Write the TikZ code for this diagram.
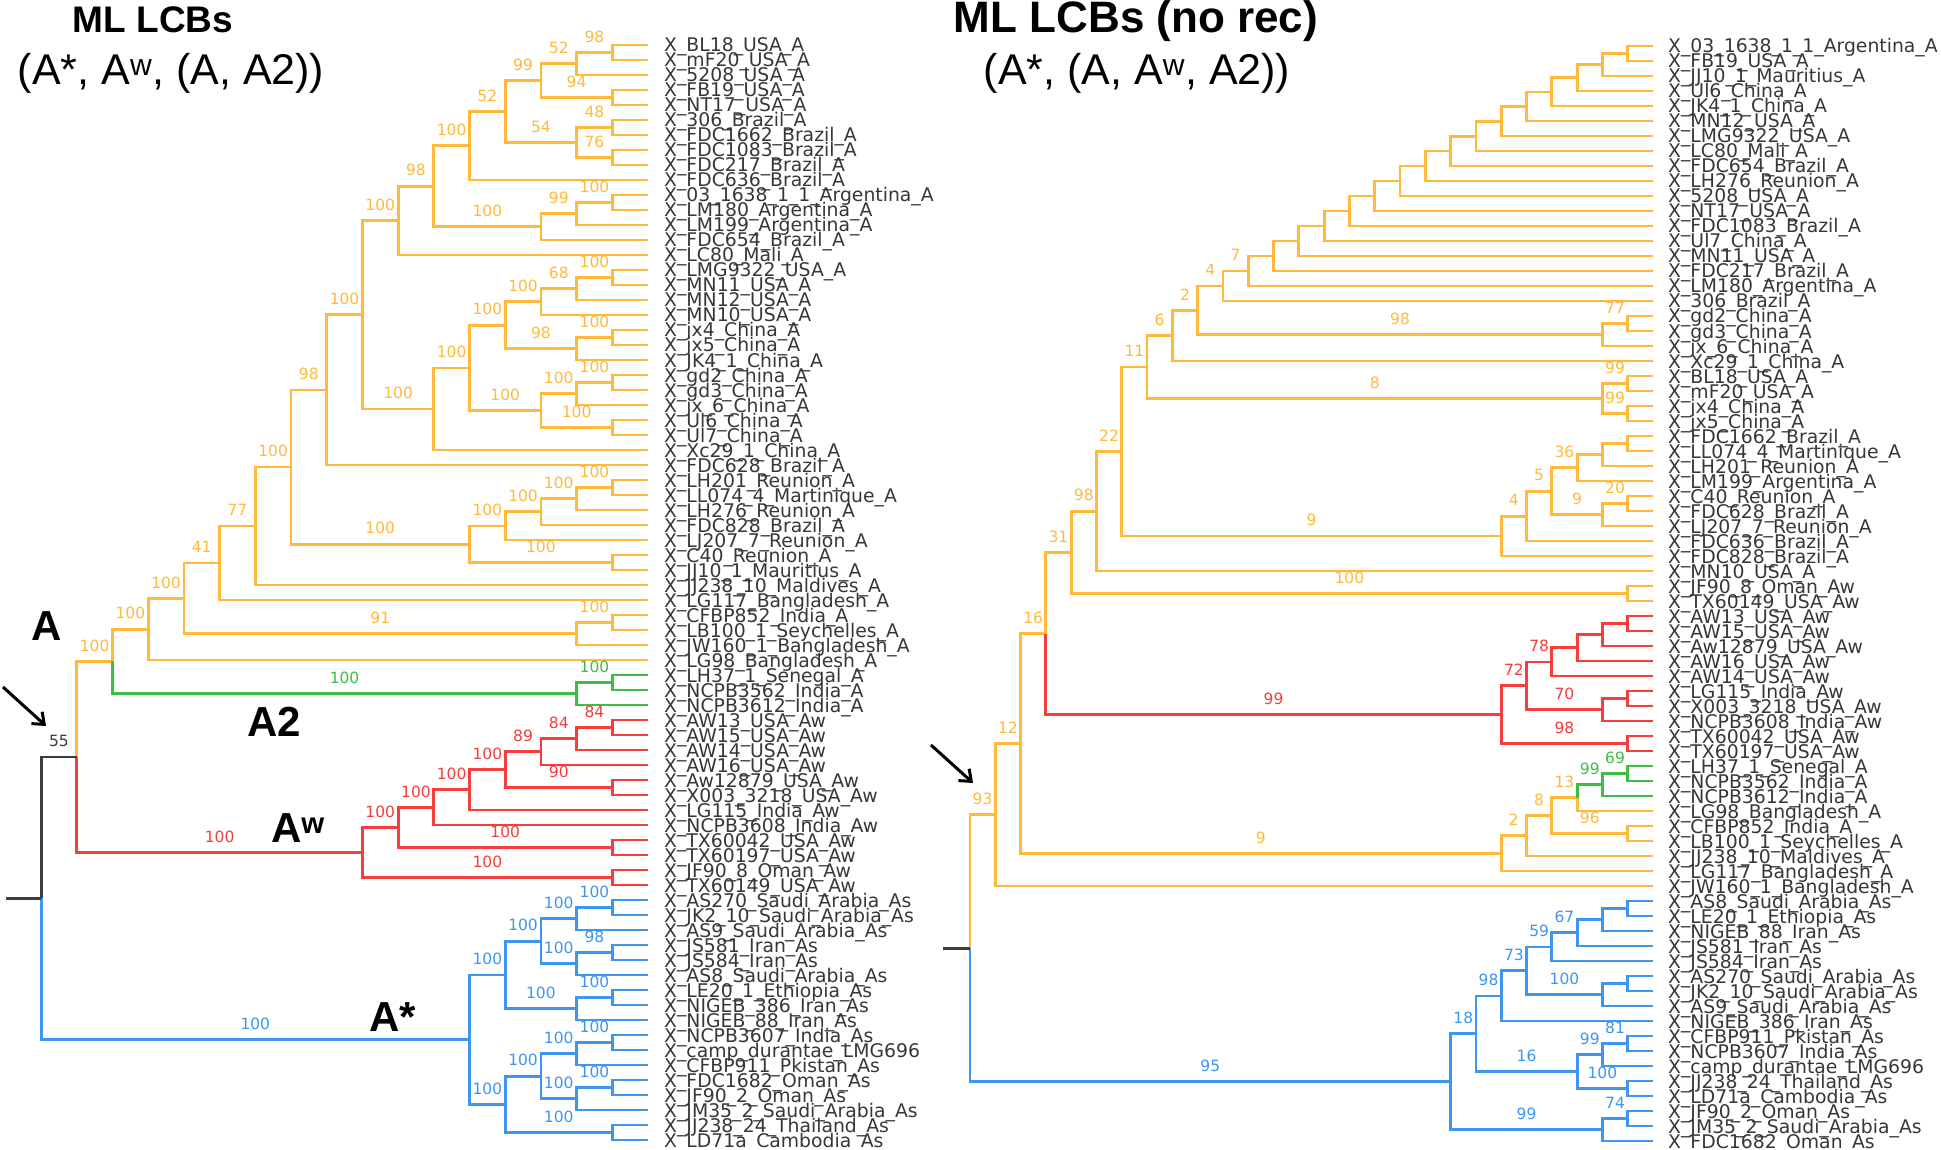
\documentclass[tikz,border=0pt]{standalone}
\usepackage{fontspec}
\setmainfont{Liberation Sans}
\newfontfamily\leaffont{DejaVu Sans}
\usetikzlibrary{calc,arrows.meta}
\definecolor{co}{RGB}{255,186,60}
\definecolor{cr}{RGB}{244,62,62}
\definecolor{cg}{RGB}{62,190,70}
\definecolor{cb}{RGB}{62,150,240}
\definecolor{ck}{RGB}{60,60,60}
\definecolor{lg}{RGB}{55,55,55}
\begin{document}
\begin{tikzpicture}[x=1pt,y=-1pt,
  edge/.style={line width=2.8pt},
  leaf/.style={font=\leaffont\fontsize{18.8}{20}\selectfont, text=lg, anchor=base west, inner sep=0pt},
  bs/.style={font=\leaffont\fontsize{15.5}{16}\selectfont, inner sep=0pt},
  clade/.style={font=\bfseries\fontsize{42}{44}\selectfont, inner sep=0pt},
  ttlb/.style={font=\bfseries\fontsize{#1}{#1}\selectfont, inner sep=0pt, anchor=base},
  ttlr/.style={font=\fontsize{43}{45}\selectfont, inner sep=0pt, anchor=base},
  arr/.style={line width=3pt, -{Straight Barb[length=10pt,width=16pt]}}]
\fill[white] (0,0) rectangle (1941,1150);
\useasboundingbox (0,0) rectangle (1941,1150);
% level coordinates
\foreach \k in {0,...,17} {\coordinate (L\k) at ({648-35.7*\k},0);}
\foreach \k in {0,...,27} {\coordinate (R\k) at ({1653-25.3*\k},0);}
% left leaves
\foreach \lname [count=\i] in {X\_BL18\_USA\_A, X\_mF20\_USA\_A, X\_5208\_USA\_A, X\_FB19\_USA\_A, X\_NT17\_USA\_A, X\_306\_Brazil\_A, X\_FDC1662\_Brazil\_A, X\_FDC1083\_Brazil\_A, X\_FDC217\_Brazil\_A, X\_FDC636\_Brazil\_A, X\_03\_1638\_1\_1\_Argentina\_A, X\_LM180\_Argentina\_A, X\_LM199\_Argentina\_A, X\_FDC654\_Brazil\_A, X\_LC80\_Mali\_A, X\_LMG9322\_USA\_A, X\_MN11\_USA\_A, X\_MN12\_USA\_A, X\_MN10\_USA\_A, X\_jx4\_China\_A, X\_jx5\_China\_A, X\_JK4\_1\_China\_A, X\_gd2\_China\_A, X\_gd3\_China\_A, X\_jx\_6\_China\_A, X\_Ul6\_China\_A, X\_Ul7\_China\_A, X\_Xc29\_1\_China\_A, X\_FDC628\_Brazil\_A, X\_LH201\_Reunion\_A, X\_LL074\_4\_Martinique\_A, X\_LH276\_Reunion\_A, X\_FDC828\_Brazil\_A, X\_LJ207\_7\_Reunion\_A, X\_C40\_Reunion\_A, X\_JJ10\_1\_Mauritius\_A, X\_JJ238\_10\_Maldives\_A, X\_LG117\_Bangladesh\_A, X\_CFBP852\_India\_A, X\_LB100\_1\_Seychelles\_A, X\_JW160\_1\_Bangladesh\_A, X\_LG98\_Bangladesh\_A, X\_LH37\_1\_Senegal\_A, X\_NCPB3562\_India\_A, X\_NCPB3612\_India\_A, X\_AW13\_USA\_Aw, X\_AW15\_USA\_Aw, X\_AW14\_USA\_Aw, X\_AW16\_USA\_Aw, X\_Aw12879\_USA\_Aw, X\_X003\_3218\_USA\_Aw, X\_LG115\_India\_Aw, X\_NCPB3608\_India\_Aw, X\_TX60042\_USA\_Aw, X\_TX60197\_USA\_Aw, X\_JF90\_8\_Oman\_Aw, X\_TX60149\_USA\_Aw, X\_AS270\_Saudi\_Arabia\_As, X\_JK2\_10\_Saudi\_Arabia\_As, X\_AS9\_Saudi\_Arabia\_As, X\_JS581\_Iran\_As, X\_JS584\_Iran\_As, X\_AS8\_Saudi\_Arabia\_As, X\_LE20\_1\_Ethiopia\_As, X\_NIGEB\_386\_Iran\_As, X\_NIGEB\_88\_Iran\_As, X\_NCPB3607\_India\_As, X\_camp\_durantae\_LMG696, X\_CFBP911\_Pkistan\_As, X\_FDC1682\_Oman\_As, X\_JF90\_2\_Oman\_As, X\_JM35\_2\_Saudi\_Arabia\_As, X\_JJ238\_24\_Thailand\_As, X\_LD71a\_Cambodia\_As}
  {\coordinate (a\i) at (648,{45+15*(\i-1)});
   \node[leaf] (an\i) at (664,{52+15*(\i-1)}) {\lname};}
% right leaves
\foreach \lname [count=\i] in {X\_03\_1638\_1\_1\_Argentina\_A, X\_FB19\_USA\_A, X\_JJ10\_1\_Mauritius\_A, X\_Ul6\_China\_A, X\_JK4\_1\_China\_A, X\_MN12\_USA\_A, X\_LMG9322\_USA\_A, X\_LC80\_Mali\_A, X\_FDC654\_Brazil\_A, X\_LH276\_Reunion\_A, X\_5208\_USA\_A, X\_NT17\_USA\_A, X\_FDC1083\_Brazil\_A, X\_Ul7\_China\_A, X\_MN11\_USA\_A, X\_FDC217\_Brazil\_A, X\_LM180\_Argentina\_A, X\_306\_Brazil\_A, X\_gd2\_China\_A, X\_gd3\_China\_A, X\_jx\_6\_China\_A, X\_Xc29\_1\_China\_A, X\_BL18\_USA\_A, X\_mF20\_USA\_A, X\_jx4\_China\_A, X\_jx5\_China\_A, X\_FDC1662\_Brazil\_A, X\_LL074\_4\_Martinique\_A, X\_LH201\_Reunion\_A, X\_LM199\_Argentina\_A, X\_C40\_Reunion\_A, X\_FDC628\_Brazil\_A, X\_LJ207\_7\_Reunion\_A, X\_FDC636\_Brazil\_A, X\_FDC828\_Brazil\_A, X\_MN10\_USA\_A, X\_JF90\_8\_Oman\_Aw, X\_TX60149\_USA\_Aw, X\_AW13\_USA\_Aw, X\_AW15\_USA\_Aw, X\_Aw12879\_USA\_Aw, X\_AW16\_USA\_Aw, X\_AW14\_USA\_Aw, X\_LG115\_India\_Aw, X\_X003\_3218\_USA\_Aw, X\_NCPB3608\_India\_Aw, X\_TX60042\_USA\_Aw, X\_TX60197\_USA\_Aw, X\_LH37\_1\_Senegal\_A, X\_NCPB3562\_India\_A, X\_NCPB3612\_India\_A, X\_LG98\_Bangladesh\_A, X\_CFBP852\_India\_A, X\_LB100\_1\_Seychelles\_A, X\_JJ238\_10\_Maldives\_A, X\_LG117\_Bangladesh\_A, X\_JW160\_1\_Bangladesh\_A, X\_AS8\_Saudi\_Arabia\_As, X\_LE20\_1\_Ethiopia\_As, X\_NIGEB\_88\_Iran\_As, X\_JS581\_Iran\_As, X\_JS584\_Iran\_As, X\_AS270\_Saudi\_Arabia\_As, X\_JK2\_10\_Saudi\_Arabia\_As, X\_AS9\_Saudi\_Arabia\_As, X\_NIGEB\_386\_Iran\_As, X\_CFBP911\_Pkistan\_As, X\_NCPB3607\_India\_As, X\_camp\_durantae\_LMG696, X\_JJ238\_24\_Thailand\_As, X\_LD71a\_Cambodia\_As, X\_JF90\_2\_Oman\_As, X\_JM35\_2\_Saudi\_Arabia\_As, X\_FDC1682\_Oman\_As}
  {\coordinate (b\i) at (1653,{46+15*(\i-1)});
   \node[leaf] (bn\i) at (1668,{53+15*(\i-1)}) {\lname};}
% internal nodes: name / level / child1 / child2
\foreach \nm/\lv/\ca/\cb in {
 n1/L1/a1/a2, n2/L2/n1/a3, n3/L1/a4/a5, n4/L3/n2/n3, n5/L1/a6/a7, n6/L1/a8/a9, n7/L2/n5/n6, n8/L4/n4/n7, n9/L5/n8/a10, n10/L1/a11/a12, n11/L2/n10/a13, n12/L3/n11/a14, n13/L6/n9/n12, n14/L7/n13/a15,
 m1/L1/a16/a17, m2/L2/m1/a18, m3/L3/m2/a19, m4/L1/a20/a21, m5/L2/m4/a22, m6/L4/m3/m5, m7/L1/a23/a24, m8/L2/m7/a25, m9/L1/a26/a27, m10/L3/m8/m9, m11/L5/m6/m10, m12/L6/m11/a28,
 n27/L8/n14/m12, n28/L9/n27/a29,
 k1/L1/a30/a31, k2/L2/k1/a32, k3/L3/k2/a33, k4/L4/k3/a34, k5/L1/a35/a36, k6/L5/k4/k5,
 n29/L10/n28/k6, n30/L11/n29/a37, n31/L12/n30/a38, j1/L1/a39/a40, j2/L2/j1/a41, n32/L13/n31/j2, n33/L14/n32/a42,
 g1/L1/a43/a44, g2/L2/g1/a45, n34/L15/n33/g2,
 w1/L1/a46/a47, w2/L2/w1/a48, w3/L3/w2/a49, w4/L1/a50/a51, w5/L4/w3/w4, w6/L5/w5/a52, w7/L6/w6/a53, w8/L1/a54/a55, w9/L7/w7/w8, w10/L1/a56/a57, w11/L8/w9/w10,
 n35/L16/n34/w11,
 s1/L1/a58/a59, s2/L2/s1/a60, s3/L1/a61/a62, s4/L2/s3/a63, s5/L3/s2/s4, s6/L1/a64/a65, s7/L2/s6/a66, s8/L4/s5/s7, s9/L1/a67/a68, s10/L2/s9/a69, s11/L1/a70/a71, s12/L2/s11/a72, s13/L3/s10/s12, s14/L1/a73/a74, s15/L4/s13/s14, s16/L5/s8/s15,
 lroot/L17/n35/s16,
 r1/R1/b1/b2, r2/R2/r1/b3, r3/R3/r2/b4, r4/R4/r3/b5, r5/R5/r4/b6, r6/R6/r5/b7, r7/R7/r6/b8, r8/R8/r7/b9, r9/R9/r8/b10, r10/R10/r9/b11, r11/R11/r10/b12, r12/R12/r11/b13, r13/R13/r12/b14, r14/R14/r13/b15, r15/R15/r14/b16, r16/R16/r15/b17, r17/R17/r16/b18,
 q1/R1/b19/b20, q2/R2/q1/b21, r18/R18/r17/q2, r19/R19/r18/b22,
 q3/R1/b23/b24, q4/R1/b25/b26, q5/R2/q3/q4, r20/R20/r19/q5,
 t1/R1/b27/b28, t2/R2/t1/b29, t3/R3/t2/b30, t4a/R1/b31/b32, t4b/R2/t4a/b33, t5/R4/t3/t4b, t6/R5/t5/b34, t7/R6/t6/b35,
 r21/R21/r20/t7, r22/R22/r21/b36, q6/R1/b37/b38, r23/R23/r22/q6,
 v1/R1/b39/b40, v2/R2/v1/b41, v3/R3/v2/b42, v4/R4/v3/b43, v5a/R1/b44/b45, v5b/R2/v5a/b46, v6/R5/v4/v5b, v7/R1/b47/b48, v8/R6/v6/v7,
 r24/R24/r23/v8,
 u1/R1/b49/b50, u2/R2/u1/b51, u3/R3/u2/b52, u4/R1/b53/b54, u5/R4/u3/u4, u6/R5/u5/b55, u7/R6/u6/b56,
 r25/R25/r24/u7, r26/R26/r25/b57,
 z1/R1/b58/b59, z2/R2/z1/b60, z3/R3/z2/b61, z4/R4/z3/b62, z5a/R1/b63/b64, z5b/R2/z5a/b65, z6/R5/z4/z5b, z7/R6/z6/b66, z8a/R1/b67/b68, z8b/R2/z8a/b69, z8c/R1/b70/b71, z8d/R3/z8b/z8c, z8/R7/z7/z8d, z9a/R1/b72/b73, z9b/R2/z9a/b74, z10/R8/z8/z9b,
 rroot/R27/r26/z10}
 {\path ($(\ca)!0.5!(\cb)$) coordinate (mid\nm);
  \coordinate (\nm) at (mid\nm -| \lv);}
% unlabelled edges: parent / child / colour
\foreach \p/\c/\col in {
 n1/a1/co, n1/a2/co, n2/a3/co, n3/a4/co, n3/a5/co, n5/a6/co, n5/a7/co, n6/a8/co, n6/a9/co, n9/a10/co, n10/a11/co, n10/a12/co, n11/a13/co, n12/a14/co, n14/a15/co, m1/a16/co, m1/a17/co, m2/a18/co, m3/a19/co, m4/a20/co, m4/a21/co, m5/a22/co, m7/a23/co, m7/a24/co, m8/a25/co, m9/a26/co, m9/a27/co, m12/a28/co, n28/a29/co, k1/a30/co, k1/a31/co, k2/a32/co, k3/a33/co, k4/a34/co, k5/a35/co, k5/a36/co, n30/a37/co, n31/a38/co, j1/a39/co, j1/a40/co, j2/a41/co, n33/a42/co,
 g1/a43/cg, g1/a44/cg, g2/a45/cg,
 w1/a46/cr, w1/a47/cr, w2/a48/cr, w3/a49/cr, w4/a50/cr, w4/a51/cr, w6/a52/cr, w7/a53/cr, w8/a54/cr, w8/a55/cr, w10/a56/cr, w10/a57/cr,
 s1/a58/cb, s1/a59/cb, s2/a60/cb, s3/a61/cb, s3/a62/cb, s4/a63/cb, s6/a64/cb, s6/a65/cb, s7/a66/cb, s9/a67/cb, s9/a68/cb, s10/a69/cb, s11/a70/cb, s11/a71/cb, s12/a72/cb, s14/a73/cb, s14/a74/cb,
 r1/b1/co, r1/b2/co, r2/b3/co, r3/b4/co, r4/b5/co, r5/b6/co, r6/b7/co, r7/b8/co, r8/b9/co, r9/b10/co, r10/b11/co, r11/b12/co, r12/b13/co, r13/b14/co, r14/b15/co, r15/b16/co, r16/b17/co, r17/b18/co, q1/b19/co, q1/b20/co, q2/b21/co, r19/b22/co, q3/b23/co, q3/b24/co, q4/b25/co, q4/b26/co, t1/b27/co, t1/b28/co, t2/b29/co, t3/b30/co, t4a/b31/co, t4a/b32/co, t4b/b33/co, t6/b34/co, t7/b35/co, r22/b36/co, q6/b37/co, q6/b38/co, u3/b52/co, u4/b53/co, u4/b54/co, u6/b55/co, u7/b56/co, r26/b57/co,
 v1/b39/cr, v1/b40/cr, v2/b41/cr, v3/b42/cr, v4/b43/cr, v5a/b44/cr, v5a/b45/cr, v5b/b46/cr, v7/b47/cr, v7/b48/cr,
 u1/b49/cg, u1/b50/cg, u2/b51/cg,
 z1/b58/cb, z1/b59/cb, z2/b60/cb, z3/b61/cb, z4/b62/cb, z5a/b63/cb, z5a/b64/cb, z5b/b65/cb, z7/b66/cb, z8a/b67/cb, z8a/b68/cb, z8b/b69/cb, z8c/b70/cb, z8c/b71/cb, z9a/b72/cb, z9a/b73/cb, z9b/b74/cb,
 r2/r1/co, r3/r2/co, r4/r3/co, r5/r4/co, r6/r5/co, r7/r6/co, r8/r7/co, r9/r8/co, r10/r9/co, r11/r10/co, r12/r11/co, r13/r12/co, r14/r13/co, r15/r14/co, r16/r15/co, t2/t1/co, t3/t2/co,
 v2/v1/cr, v3/v2/cr, v4/v3/cr, v5b/v5a/cr,
 z2/z1/cb, z3/z2/cb, z5b/z5a/cb}
 {\draw[edge,draw=\col] (\p) |- (\c);}
% labelled edges: parent / child / colour / support
\foreach \p/\c/\col/\lab in {
 n2/n1/co/98, n4/n2/co/52, n4/n3/co/94, n8/n4/co/99, n7/n5/co/48, n7/n6/co/76, n8/n7/co/54, n9/n8/co/52, n13/n9/co/100, n11/n10/co/100, n12/n11/co/99, n13/n12/co/100, n14/n13/co/98, n27/n14/co/100,
 m2/m1/co/100, m3/m2/co/68, m6/m3/co/100, m5/m4/co/100, m6/m5/co/98, m11/m6/co/100, m8/m7/co/100, m10/m8/co/100, m10/m9/co/100, m11/m10/co/100, m12/m11/co/100, n27/m12/co/100,
 n28/n27/co/100, n29/n28/co/98, k2/k1/co/100, k3/k2/co/100, k4/k3/co/100, k6/k4/co/100, k6/k5/co/100, n29/k6/co/100, n30/n29/co/100, n31/n30/co/77, n32/n31/co/41, j2/j1/co/100, n32/j2/co/91, n33/n32/co/100, n34/n33/co/100, n35/n34/co/100,
 g2/g1/cg/100, n34/g2/cg/100,
 w2/w1/cr/84, w3/w2/cr/84, w5/w3/cr/89, w5/w4/cr/90, w6/w5/cr/100, w7/w6/cr/100, w9/w7/cr/100, w9/w8/cr/100, w11/w9/cr/100, w11/w10/cr/100, n35/w11/cr/100,
 s2/s1/cb/100, s5/s2/cb/100, s4/s3/cb/98, s5/s4/cb/100, s8/s5/cb/100, s7/s6/cb/100, s8/s7/cb/100, s16/s8/cb/100, s10/s9/cb/100, s13/s10/cb/100, s12/s11/cb/100, s13/s12/cb/100, s15/s13/cb/100, s15/s14/cb/100, s16/s15/cb/100, lroot/s16/cb/100,
 lroot/n35/ck/55,
 r17/r16/co/7, r18/r17/co/4, q2/q1/co/77, r18/q2/co/98, r19/r18/co/2, r20/r19/co/6, q5/q3/co/99, q5/q4/co/99, r20/q5/co/8, r21/r20/co/11, t5/t3/co/36, t4b/t4a/co/20, t5/t4b/co/9, t6/t5/co/5, t7/t6/co/4, r21/t7/co/9, r22/r21/co/22, r23/r22/co/98, r23/q6/co/100, r24/r23/co/31, r25/r24/co/16, u5/u3/co/13, u5/u4/co/96, u6/u5/co/8, u7/u6/co/2, r25/u7/co/9, r26/r25/co/12, rroot/r26/co/93,
 v6/v4/cr/78, v6/v5b/cr/70, v8/v6/cr/72, v8/v7/cr/98, r24/v8/cr/99,
 u2/u1/cg/69, u3/u2/cg/99,
 z4/z3/cb/67, z6/z4/cb/59, z6/z5b/cb/100, z7/z6/cb/73, z8/z7/cb/98, z8b/z8a/cb/81, z8d/z8b/cb/99, z8d/z8c/cb/100, z8/z8d/cb/16, z10/z8/cb/18, z9b/z9a/cb/74, z10/z9b/cb/99, rroot/z10/cb/95}
 {\draw[edge,draw=\col] (\p) |- (\c);
  \node[bs,text=\col] (lb\c) at ($(\p |- \c)!0.5!(\c)+(0,-16)$) {\lab};}
% root stubs
\coordinate (lx0) at (6,0);
\coordinate (lstub) at (lroot -| lx0);
\draw[edge,draw=ck] (lstub) -- (lroot);
\coordinate (rx0) at (943,0);
\coordinate (rstub) at (rroot -| rx0);
\draw[edge,draw=ck] (rstub) -- (rroot);
% arrows
\coordinate (arL1) at (3,687);
\coordinate (arL2) at (46,726);
\draw[arr] (arL1) -- (arL2);
\coordinate (arR1) at (931,745);
\coordinate (arR2) at (973,783);
\draw[arr] (arR1) -- (arR2);
% clade names
\node[clade] (cA) at (47,626) {A};
\node[clade] (cA2) at (274,722) {A2};
\node[clade] (cAw) at (298,828) {A\textsuperscript{w}};
\node[clade] (cAs) at (393,1017) {A*};
% titles
\node[ttlb=37] (ttlA) at (153,33) {ML LCBs};
\node[ttlr] (ttlB) at (171,85) {(A*, A\textsuperscript{w}, (A, A2))};
\node[ttlb=44] (ttlC) at (1136,33) {ML LCBs (no rec)};
\node[ttlr] (ttlD) at (1137,85) {(A*, (A, A\textsuperscript{w}, A2))};
\end{tikzpicture}
\end{document}
